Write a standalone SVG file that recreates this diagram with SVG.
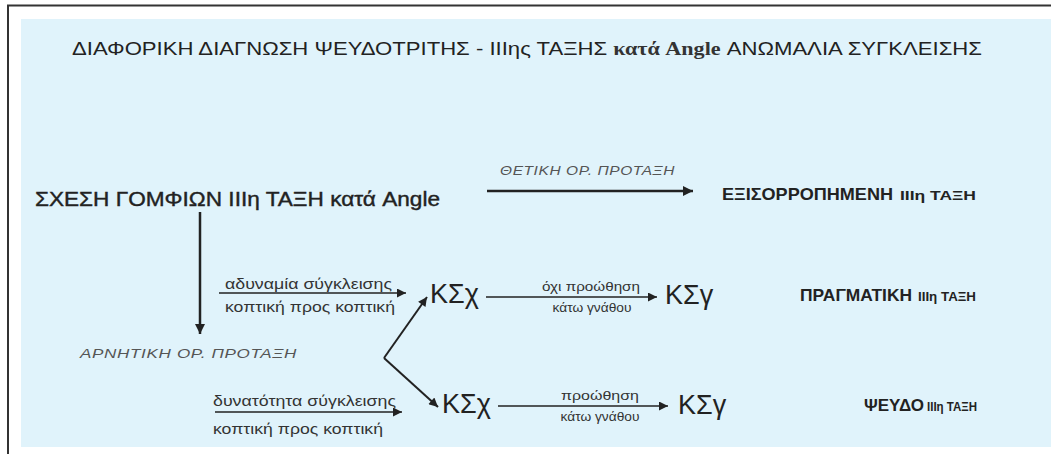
<svg xmlns="http://www.w3.org/2000/svg" width="1051" height="454" viewBox="0 0 1051 454">
<defs>
<style>
.sans{font-family:"Liberation Sans",Arial,sans-serif;fill:#222}
.serif{font-family:"Liberation Serif","Times New Roman",serif;font-weight:bold;fill:#333}
.it{font-family:"Liberation Sans",Arial,sans-serif;font-style:italic;fill:#555;font-size:13px;letter-spacing:0.5px}
.lbl{font-family:"Liberation Sans",Arial,sans-serif;fill:#333;font-size:14px}
.sm{font-family:"Liberation Sans",Arial,sans-serif;fill:#333;font-size:13.5px}
.big{font-family:"Liberation Sans",Arial,sans-serif;fill:#222;font-size:27px}
.res{font-family:"Liberation Sans",Arial,sans-serif;fill:#222;font-weight:bold;font-size:17px}
.ress{font-family:"Liberation Sans",Arial,sans-serif;fill:#222;font-weight:bold;font-size:12.5px}
.ln{stroke:#222;fill:none}
</style>
<marker id="ah" viewBox="0 0 10 10" refX="10" refY="5" markerWidth="12" markerHeight="10" markerUnits="userSpaceOnUse" orient="auto">
<path d="M0,0 L10,5 L0,10 Z" fill="#222"/>
</marker>
<marker id="ahs" viewBox="0 0 10 10" refX="10" refY="5" markerWidth="11" markerHeight="9" markerUnits="userSpaceOnUse" orient="auto">
<path d="M0,0 L10,5 L0,10 Z" fill="#222"/>
</marker>
</defs>
<rect x="0" y="0" width="1051" height="454" fill="#ffffff"/>
<path d="M8,454 V5.5 H1051" stroke="#333" stroke-width="2" fill="none"/>
<rect x="21" y="19" width="1030" height="428" fill="#e0f3fb"/>

<g id="title">
<text class="sans" x="72" y="55" font-size="18" textLength="910" lengthAdjust="spacingAndGlyphs">ΔΙΑΦΟΡΙΚΗ ΔΙΑΓΝΩΣΗ ΨΕΥΔΟΤΡΙΤΗΣ - IIIης ΤΑΞΗΣ <tspan class="serif">κατά Angle</tspan> ΑΝΩΜΑΛΙΑ ΣΥΓΚΛΕΙΣΗΣ</text>
</g>

<g id="connectors">
<line class="ln" x1="487" y1="191" x2="693" y2="191" stroke-width="2.5" marker-end="url(#ah)"/>
<line class="ln" x1="200" y1="212" x2="200" y2="334" stroke-width="2.5" marker-end="url(#ah)"/>
<line class="ln" x1="219" y1="293" x2="406" y2="293" stroke-width="1.5" marker-end="url(#ahs)"/>
<line class="ln" x1="215" y1="412" x2="402" y2="412" stroke-width="1.5" marker-end="url(#ahs)"/>
<line class="ln" x1="384" y1="358" x2="427" y2="297" stroke-width="2" marker-end="url(#ahs)"/>
<line class="ln" x1="384" y1="358" x2="438" y2="407" stroke-width="2" marker-end="url(#ahs)"/>
<line class="ln" x1="486" y1="297" x2="657" y2="297" stroke-width="1.5" marker-end="url(#ahs)"/>
<line class="ln" x1="498" y1="406" x2="668" y2="406" stroke-width="1.5" marker-end="url(#ahs)"/>
</g>

<g id="edge-labels">
<text class="it" x="500" y="175" textLength="175" lengthAdjust="spacingAndGlyphs">ΘΕΤΙΚΗ ΟΡ. ΠΡΟΤΑΞΗ</text>
<text class="it" x="80" y="358" textLength="217" lengthAdjust="spacingAndGlyphs">ΑΡΝΗΤΙΚΗ ΟΡ. ΠΡΟΤΑΞΗ</text>
<text class="lbl" x="225" y="289" textLength="167" lengthAdjust="spacingAndGlyphs">αδυναμία σύγκλεισης</text>
<text class="lbl" x="225" y="312" textLength="170" lengthAdjust="spacingAndGlyphs">κοπτική προς κοπτική</text>
<text class="lbl" x="213" y="406" textLength="183" lengthAdjust="spacingAndGlyphs">δυνατότητα σύγκλεισης</text>
<text class="lbl" x="213" y="434" textLength="170" lengthAdjust="spacingAndGlyphs">κοπτική προς κοπτική</text>
<text class="sm" x="591" y="291" text-anchor="middle" textLength="98" lengthAdjust="spacingAndGlyphs">όχι προώθηση</text>
<text class="sm" x="592" y="312" text-anchor="middle" textLength="79" lengthAdjust="spacingAndGlyphs">κάτω γνάθου</text>
<text class="sm" x="600" y="400" text-anchor="middle" textLength="78" lengthAdjust="spacingAndGlyphs">προώθηση</text>
<text class="sm" x="600" y="421" text-anchor="middle" textLength="79" lengthAdjust="spacingAndGlyphs">κάτω γνάθου</text>
</g>

<g id="node-relation">
<text class="sans" x="35" y="206" font-size="20" stroke="#222" stroke-width="0.4" textLength="405" lengthAdjust="spacingAndGlyphs">ΣΧΕΣΗ ΓΟΜΦΙΩΝ IIIη ΤΑΞΗ κατά Angle</text>
</g>
<g id="node-balanced">
<text class="res" x="722" y="200" font-size="18" textLength="171" lengthAdjust="spacingAndGlyphs">ΕΞΙΣΟΡΡΟΠΗΜΕΝΗ</text>
<text class="ress" x="900" y="200" font-size="13.5" textLength="76" lengthAdjust="spacingAndGlyphs">IIIη ΤΑΞΗ</text>
</g>
<g id="node-ksx-upper">
<text class="big" x="430" y="303">ΚΣχ</text>
</g>
<g id="node-ksg-upper">
<text class="big" x="665" y="304">ΚΣγ</text>
</g>
<g id="node-true">
<text class="res" x="800" y="301" textLength="112" lengthAdjust="spacingAndGlyphs">ΠΡΑΓΜΑΤΙΚΗ</text>
<text class="ress" x="918" y="301" textLength="58" lengthAdjust="spacingAndGlyphs">IIIη ΤΑΞΗ</text>
</g>
<g id="node-ksx-lower">
<text class="big" x="442" y="413">ΚΣχ</text>
</g>
<g id="node-ksg-lower">
<text class="big" x="678" y="414">ΚΣγ</text>
</g>
<g id="node-pseudo">
<text class="res" x="864" y="411" font-size="16">ΨΕΥΔΟ</text>
<text class="ress" x="927" y="411" font-size="12" textLength="50" lengthAdjust="spacingAndGlyphs">IIIη ΤΑΞΗ</text>
</g>
</svg>
